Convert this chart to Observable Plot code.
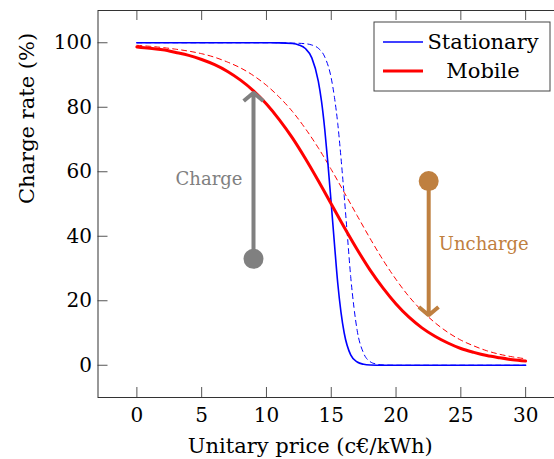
<!DOCTYPE html>
<html><head><meta charset="utf-8">
<script src="https://cdn.jsdelivr.net/npm/d3@7"></script>
<script src="https://cdn.jsdelivr.net/npm/@observablehq/plot@0.6"></script>
<style>body{margin:0;background:#fff;overflow:hidden}</style>
</head><body><div id="chart"></div>
<script>
// ---- data ----
const mobileX = [0,1,2,3,4,5,6,7,8,9,10,11,12,13,14,15,16,17,18,19,20,21,22,23,24,25,26,27,28,29,30];
const mobileSolid = [98.7,98.3,97.8,97.0,96.1,94.8,93.2,91.1,88.4,85.1,81.0,76.1,70.5,64.1,57.2,50.0,42.8,35.9,29.5,23.9,19.0,14.9,11.6,9.0,6.9,5.2,4.0,3.0,2.3,1.7,1.3];
const mobileDashed = [99.2,98.9,98.5,98.0,97.4,96.6,95.5,94.0,92.2,89.8,86.8,83.1,78.7,73.4,67.4,60.7,53.6,46.4,39.3,32.6,26.6,21.3,16.9,13.2,10.2,7.8,6.0,4.5,3.4,2.6,2.0];
const stationaryX = [0,5,10,11,12,12.5,13,13.5,14,14.25,14.5,14.75,15,15.25,15.5,15.75,16,16.5,17,17.5,18,19,20,25,30];
const stationarySolid = [100,100,100,99.97,99.75,99.3,98.2,95.3,88.1,81.8,73.1,62.2,50,37.5,25.5,16.5,10,3.2,1.0,0.3,0.08,0,0,0,0];
const stationaryDashedX = [0,5,10,12,13,13.5,14,14.5,15,15.25,15.5,15.75,16,16.25,16.5,16.75,17,17.5,18,18.5,19,20,25,30];
const stationaryDashed = [100,100,100,99.9,99.7,99.3,98.3,95.6,89,83,75,64.4,52.5,40,27.5,18,10.8,3.7,1.1,0.35,0.1,0,0,0];
const xTicks = [0,5,10,15,20,25,30];
const yTicks = [0,20,40,60,80,100];
const arrowNames = ["Charge","Uncharge"];
const arrowX = [9, 22.52];
const arrowFrom = [33.0, 57.1];
const arrowTo = [84.5, 15.5];
const arrowColors = ["#808080","#bf8040"];
const labelX = [8.15, 23.3];
const labelY = [57.8, 37.4];
const legendNames = ["Stationary","Mobile"];
const legendColors = ["#0000ff","#ff0000"];

// ---- layout ----
const W = 554, H = 459, mL = 97.5, mR = -10, mT = 10, mB = 62;
const plotW = W - mL - mR, plotH = H - mT - mB;
const serif = "'DejaVu Serif', serif";

const table = (xs, ys) => xs.map((x, i) => ({x, y: ys[i]}));
const arrows = arrowNames.map((n, i) => ({name: n, x: arrowX[i], y1: arrowFrom[i], y2: arrowTo[i], color: arrowColors[i], lx: labelX[i], ly: labelY[i]}));

const chart = Plot.plot({
  width: W, height: H,
  marginLeft: mL, marginRight: mR, marginTop: mT, marginBottom: mB,
  x: {domain: [-3, 33]},
  y: {domain: [-10, 110]},
  style: {fontFamily: serif, fontSize: "20px", color: "#000", background: "#fff"},
  marks: [
    Plot.tickX(xTicks, {x: d => d, insetTop: plotH - 10, stroke: "#555", strokeWidth: 1}),
    Plot.tickX(xTicks, {x: d => d, insetBottom: plotH - 10, stroke: "#555", strokeWidth: 1}),
    Plot.tickY(yTicks, {y: d => d, insetRight: plotW - 10, stroke: "#555", strokeWidth: 1}),
    Plot.axisX({ticks: xTicks, tickSize: 0, tickPadding: 10, label: null, fontSize: 20, fontFamily: serif, fill: "#000"}),
    Plot.axisY({ticks: yTicks, tickSize: 0, tickPadding: 6, label: null, fontSize: 20, fontFamily: serif, fill: "#000"}),
    Plot.frame({stroke: "#333", strokeWidth: 1}),
    Plot.line(table(stationaryDashedX, stationaryDashed), {x: "x", y: "y", stroke: "#0000ff", strokeWidth: 1, strokeDasharray: "5,4", curve: "monotone-x"}),
    Plot.line(table(mobileX, mobileDashed), {x: "x", y: "y", stroke: "#ff0000", strokeWidth: 1, strokeDasharray: "5,4", curve: "monotone-x"}),
    Plot.line(table(stationaryX, stationarySolid), {x: "x", y: "y", stroke: "#0000ff", strokeWidth: 1.6, curve: "monotone-x"}),
    Plot.line(table(mobileX, mobileSolid), {x: "x", y: "y", stroke: "#ff0000", strokeWidth: 3, curve: "monotone-x"}),
    Plot.arrow(arrows, {x1: "x", x2: "x", y1: "y1", y2: "y2", stroke: "color", strokeWidth: 4, headAngle: 100, headLength: 4.8, strokeLinejoin: "miter", strokeLinecap: "butt"}),
    Plot.dot(arrows, {x: "x", y: "y1", r: 10, fill: "color", stroke: null}),
    Plot.text(arrows.filter(d => d.name === "Charge"), {x: "lx", y: "ly", text: "name", fill: "color", textAnchor: "end", lineAnchor: "middle", fontSize: 18, fontFamily: serif}),
    Plot.text(arrows.filter(d => d.name === "Uncharge"), {x: "lx", y: "ly", text: "name", fill: "color", textAnchor: "start", lineAnchor: "middle", fontSize: 18, fontFamily: serif}),
    Plot.text(["Unitary price (c€/kWh)"], {frameAnchor: "bottom", dx: -21, dy: 55.3, lineAnchor: "bottom", fontSize: 21, fontFamily: serif, fill: "#000"}),
    Plot.text(["Charge rate (%)"], {frameAnchor: "left", rotate: -90, dx: -64.5, lineAnchor: "bottom", fontSize: 21, fontFamily: serif, fill: "#000"})
  ]
});
document.getElementById("chart").appendChild(chart);

// legend box inside the plot area
const svg = d3.select(chart);
const lg = svg.append("g").attr("font-family", serif).attr("font-size", 21);
lg.append("rect").attr("x", 374).attr("y", 22).attr("width", 176).attr("height", 69)
  .attr("fill", "#fff").attr("stroke", "#444").attr("stroke-width", 1);
legendNames.forEach((n, i) => {
  const cy = 42 + i * 29;
  lg.append("line").attr("x1", 383).attr("x2", 423).attr("y1", cy).attr("y2", cy)
    .attr("stroke", legendColors[i]).attr("stroke-width", i === 0 ? 1.6 : 3);
  lg.append("text").attr("x", 483).attr("y", cy + 6.5).attr("text-anchor", "middle").attr("fill", "#000").text(n);
});
</script></body></html>
